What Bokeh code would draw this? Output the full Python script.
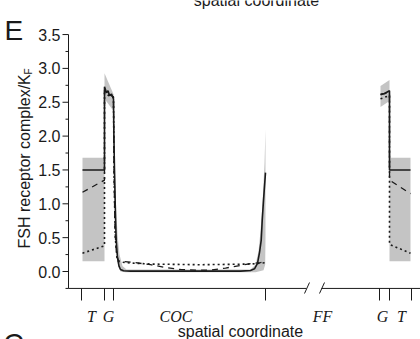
from bokeh.plotting import figure
from bokeh.models import Range1d, Label
from bokeh.core.properties import value
from bokeh.embed import file_html
from bokeh.resources import INLINE

# ---------------- data (x: position along the schematic spatial coordinate) ----------------
# left theca (T) region
tl_x = [82, 104]
tl_band_hi = [1.68, 1.68]
tl_band_lo = [0.15, 0.15]

# left granulosa (G) band
gl_x = [104, 113]
gl_band_hi = [2.93, 2.62]
gl_band_lo = [2.55, 2.37]

# band around solid curve through the COC
coc_band_hi_x = [113, 113.5, 114.5, 115.5, 117, 119, 122, 126, 250, 255, 258, 260, 262, 264, 265]
coc_band_hi_y = [2.62, 2.2, 1.5, 1.0, 0.55, 0.25, 0.08, 0.03, 0.03, 0.1, 0.3, 0.6, 1.0, 1.6, 2.1]
coc_band_lo_x = [113, 113.3, 114, 115, 116, 117.5, 120, 125, 255, 263, 264.7, 265]
coc_band_lo_y = [2.37, 2.0, 1.2, 0.6, 0.3, 0.1, 0.0, -0.01, -0.01, 0.02, 0.1, 0.5]

# right G and T bands
gr_x = [380, 389]
gr_band_hi = [2.74, 2.83]
gr_band_lo = [2.43, 2.52]
tr_x = [389, 410]
tr_band_hi = [1.68, 1.68]
tr_band_lo = [0.15, 0.15]

# solid series
solid_l_x = [82, 104, 104, 106, 107.5, 109, 111, 113, 113.3, 114, 115, 115.7, 117, 118.5, 120,
             123, 130, 160, 200, 240, 250, 254, 257, 259, 260.7, 261.7, 263, 265]
solid_l_y = [1.50, 1.50, 2.73, 2.64, 2.67, 2.60, 2.62, 2.55, 2.08, 1.5, 0.8, 0.46, 0.2, 0.08, 0.03,
             0.01, 0.005, 0.005, 0.005, 0.005, 0.015, 0.04, 0.12, 0.28, 0.46, 0.75, 1.05, 1.46]
solid_r_x = [380, 384, 389, 389, 410]
solid_r_y = [2.61, 2.63, 2.67, 1.50, 1.50]

# dashed series
dash_l_x = [82, 104, 104, 108, 113, 113.5, 114.5, 116, 118, 122, 135, 150, 165, 180, 195, 210,
            225, 240, 252, 260, 265]
dash_l_y = [1.17, 1.35, 2.68, 2.62, 2.58, 1.5, 0.6, 0.25, 0.16, 0.15, 0.13, 0.10, 0.06, 0.03,
            0.02, 0.02, 0.05, 0.09, 0.12, 0.13, 0.15]
dash_r_x = [380, 389, 389, 410]
dash_r_y = [2.62, 2.64, 1.35, 1.15]

# dotted series
dot_l_x = [82, 104, 104, 108, 113, 113.6, 114.8, 116.5, 118, 125, 150, 200, 250, 265]
dot_l_y = [0.27, 0.38, 2.64, 2.60, 2.57, 1.4, 0.5, 0.2, 0.15, 0.13, 0.11, 0.10, 0.11, 0.13]
dot_r_x = [380, 389, 389, 410]
dot_r_y = [2.55, 2.60, 0.40, 0.27]

# x "axis" (schematic): region boundary ticks and labels
xtick_pos = [81, 104, 113, 265, 379, 389, 411]
xlabel_text = ["T", "G", "COC", "FF", "G", "T"]
xlabel_pos = [91, 108, 175.5, 322, 382, 401]
axis_break = [306, 321]

y_major = [0.0, 0.5, 1.0, 1.5, 2.0, 2.5, 3.0, 3.5]
y_minor = [-0.25, 0.25, 0.75, 1.25, 1.75, 2.25, 2.75, 3.25]
y_labels = ["0.0", "0.5", "1.0", "1.5", "2.0", "2.5", "3.0", "3.5"]

# ---------------- layout helpers ----------------
W, H = 420, 339
Y0, PX = 271.0, 67.7          # pixel row of y=0 and pixels per unit
XAX = 68                      # x position of the y axis line


def yv(py):
    return (Y0 - py) / PX


p = figure(width=W, height=H, output_backend="svg", toolbar_location=None,
           x_range=Range1d(0, W), y_range=Range1d(yv(H), yv(0)),
           x_axis_location=None, y_axis_location=None,
           min_border_left=0, min_border_right=0, min_border_top=0, min_border_bottom=0)
p.outline_line_color = None
p.grid.visible = False
p.background_fill_color = "white"
p.border_fill_color = "white"

LC = "#1a1a1a"
SANS = "Liberation Sans"

# ---- y axis ----
p.segment(x0=[XAX], y0=[-0.25], x1=[XAX], y1=[3.5], line_color=LC, line_width=1)
p.segment(x0=[XAX - 6] * len(y_major), y0=y_major, x1=[XAX] * len(y_major), y1=y_major,
          line_color=LC, line_width=1)
p.segment(x0=[XAX - 3] * len(y_minor), y0=y_minor, x1=[XAX] * len(y_minor), y1=y_minor,
          line_color=LC, line_width=1)
p.text(x=[XAX - 8] * len(y_major), y=y_major, text=y_labels, text_font=value(SANS),
       text_font_size="16px", text_align="right", text_baseline="middle", text_color=LC)

BAND = "#c4c4c4"
p.varea(x=tl_x, y1=tl_band_lo, y2=tl_band_hi, fill_color=BAND)
p.varea(x=gl_x, y1=gl_band_lo, y2=gl_band_hi, fill_color=BAND)
p.patch(x=coc_band_hi_x + coc_band_lo_x[::-1], y=coc_band_hi_y + coc_band_lo_y[::-1],
        fill_color=BAND, line_color=None)
p.varea(x=gr_x, y1=gr_band_lo, y2=gr_band_hi, fill_color=BAND)
p.varea(x=tr_x, y1=tr_band_lo, y2=tr_band_hi, fill_color=BAND)

for xs, ys in [(dot_l_x, dot_l_y), (dot_r_x, dot_r_y)]:
    p.line(xs, ys, line_color=LC, line_width=1.6, line_dash="2 3")
for xs, ys in [(dash_l_x, dash_l_y), (dash_r_x, dash_r_y)]:
    p.line(xs, ys, line_color=LC, line_width=1.3, line_dash="6 5")
for xs, ys in [(solid_l_x, solid_l_y), (solid_r_x, solid_r_y)]:
    p.line(xs, ys, line_color=LC, line_width=1.6)

# ---- broken x axis ----
ya = -0.25
p.segment(x0=[XAX, axis_break[1]], y0=[ya, ya], x1=[axis_break[0], W], y1=[ya, ya],
          line_color=LC, line_width=1)
p.segment(x0=[axis_break[0] - 2, axis_break[1] - 2], y0=[yv(293), yv(293)],
          x1=[axis_break[0] + 3, axis_break[1] + 3], y1=[yv(282), yv(282)],
          line_color=LC, line_width=1)
p.segment(x0=xtick_pos, y0=[ya] * len(xtick_pos), x1=xtick_pos,
          y1=[yv(300)] * len(xtick_pos), line_color=LC, line_width=1)

p.text(x=xlabel_pos, y=[yv(316)] * len(xlabel_pos), text=xlabel_text,
       text_font=value("Liberation Serif"), text_font_style="italic", text_font_size="16px",
       text_align="center", text_baseline="alphabetic", text_color=LC)

p.add_layout(Label(x=240, y=yv(331), text="spatial coordinate", text_font=SANS,
                   text_font_size="16px", text_align="center", text_baseline="alphabetic",
                   text_color=LC))
p.add_layout(Label(x=256, y=yv(0), text="spatial coordinate", text_font=SANS,
                   text_font_size="16px", text_align="center", text_baseline="alphabetic",
                   text_color=LC))

# panel letters
p.add_layout(Label(x=4, y=yv(30), text="E", text_font=SANS,
                   text_font_size="28px", text_align="left", text_baseline="alphabetic",
                   text_color=LC))
p.add_layout(Label(x=3, y=yv(327), text="C", text_font=SANS,
                   text_font_size="28px", text_align="left", text_baseline="top",
                   text_color=LC))

# y axis label (rotated) with subscript
p.add_layout(Label(x=23.5, y=yv(248), text="FSH receptor complex/K", angle=1.5707963,
                   text_font=SANS, text_font_size="16px", text_align="left",
                   text_baseline="alphabetic", text_color=LC))
p.add_layout(Label(x=27.5, y=yv(74), text="F", angle=1.5707963,
                   text_font=SANS, text_font_size="10px", text_align="left",
                   text_baseline="alphabetic", text_color=LC))

open("out.html", "w").write(file_html(p, INLINE))
